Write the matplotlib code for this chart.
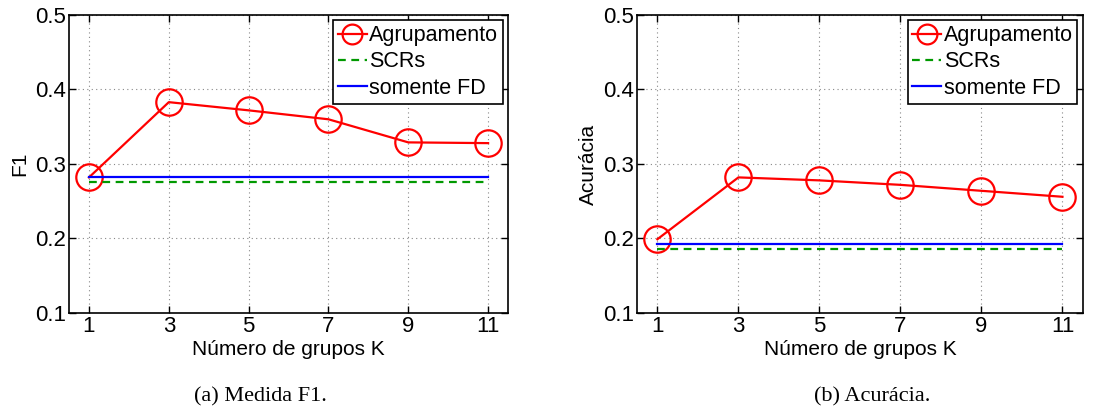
import matplotlib
matplotlib.use("Agg")
import matplotlib.pyplot as plt

k_values = [1, 3, 5, 7, 9, 11]
f1_agrup = [0.282, 0.383, 0.372, 0.360, 0.329, 0.328]
f1_scrs = [0.276, 0.276]
f1_fd = [0.282, 0.282]
acc_agrup = [0.199, 0.282, 0.278, 0.272, 0.264, 0.256]
acc_scrs = [0.186, 0.186]
acc_fd = [0.192, 0.192]
k_ends = [1, 11]
yticks = [0.1, 0.2, 0.3, 0.4, 0.5]
labels = ["Agrupamento", "SCRs", "somente FD"]
ylabels = ["F1", "Acurácia"]
xlabel = "Número de grupos K"
captions = ["(a) Medida F1.", "(b) Acurácia."]

plt.rcParams['font.family'] = ['Liberation Sans', 'DejaVu Sans']

fig = plt.figure(figsize=(11.1, 4.2), dpi=100)
positions = [[0.0622, 0.2548, 0.3955, 0.7095], [0.574, 0.2548, 0.4014, 0.7095]]
series = [(f1_agrup, f1_scrs, f1_fd), (acc_agrup, acc_scrs, acc_fd)]
cap_x = [0.235, 0.786]

for i, (pos, (ag, sc, fd)) in enumerate(zip(positions, series)):
    ax = fig.add_axes(pos)
    ax.plot(k_values, ag, color='red', lw=1.6, marker='o', ms=19, mfc='none',
            mec='red', mew=1.6, label=labels[0])
    ax.plot(k_ends, sc, color=(0, 0.6, 0), lw=1.6, ls=(0, (3.5, 2.5)), label=labels[1])
    ax.plot(k_ends, fd, color='blue', lw=1.6, label=labels[2])
    ax.set_xlim(0.5, 11.5)
    ax.set_ylim(0.1, 0.5)
    ax.set_xticks(k_values)
    ax.set_yticks(yticks)
    ax.set_yticklabels([f"{v:.1f}" for v in yticks])
    ax.tick_params(direction='in', top=True, right=True, labelsize=16, length=5,
                   width=1, pad=2)
    ax.grid(True, ls=(0, (1, 3)), color='#888888', lw=0.8)
    for s in ax.spines.values():
        s.set_linewidth(1.2)
    ax.set_ylabel(ylabels[i], fontsize=15, labelpad=4)
    ax.set_xlabel(xlabel, fontsize=15, labelpad=2)
    leg = ax.legend(loc='upper right', fontsize=15.5, handlelength=1.35,
                    handletextpad=0.1, labelspacing=0.25, borderpad=0.22,
                    borderaxespad=0.25, fancybox=False, framealpha=1,
                    edgecolor='black', markerscale=0.75)
    leg.get_frame().set_linewidth(1.2)
    fig.text(cap_x[i], 0.055, captions[i], fontsize=16, ha='center', va='center',
             family=['Liberation Serif', 'DejaVu Serif'])

fig.savefig("out.png", dpi=100)
